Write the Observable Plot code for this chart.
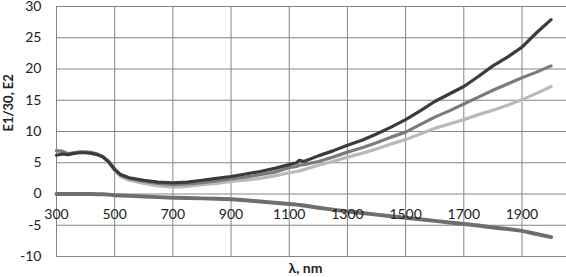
<!DOCTYPE html>
<html>
<head>
<meta charset="utf-8">
<script src="https://cdn.jsdelivr.net/npm/d3@7"></script>
<script src="https://cdn.jsdelivr.net/npm/@observablehq/plot@0.6"></script>
<style>
  html, body { margin: 0; padding: 0; background: #fff; }
  #chart svg { display: block; }
</style>
</head>
<body>
<div id="chart"></div>
<script>
const wavelength = [300, 320, 340, 360, 380, 400, 420, 440, 460, 480, 500, 520, 550, 600, 650, 700, 750, 800, 850, 900, 950, 1000, 1050, 1100, 1125, 1135, 1150, 1200, 1250, 1300, 1350, 1400, 1450, 1500, 1550, 1600, 1650, 1700, 1750, 1800, 1850, 1900, 1950, 2000];
const e1Dark = [6.2, 6.4, 6.3, 6.5, 6.6, 6.6, 6.5, 6.3, 5.9, 5.1, 3.9, 3.1, 2.6, 2.2, 1.9, 1.8, 1.9, 2.2, 2.5, 2.8, 3.2, 3.6, 4.1, 4.7, 5.0, 5.4, 5.2, 6.1, 6.9, 7.8, 8.6, 9.6, 10.7, 11.9, 13.3, 14.8, 16.0, 17.2, 18.8, 20.5, 21.9, 23.5, 25.8, 27.9];
const e1Medium = [6.9, 6.8, 6.4, 6.6, 6.7, 6.7, 6.6, 6.4, 6.0, 5.2, 4.0, 3.1, 2.5, 2.0, 1.7, 1.5, 1.6, 1.8, 2.1, 2.4, 2.7, 3.1, 3.5, 4.2, 4.4, 4.6, 4.7, 5.2, 5.9, 6.7, 7.4, 8.2, 9.1, 9.9, 11.1, 12.3, 13.3, 14.4, 15.5, 16.6, 17.6, 18.6, 19.5, 20.5];
const e1Light = [7.0, 6.9, 6.5, 6.6, 6.8, 6.8, 6.7, 6.4, 5.9, 5.0, 3.7, 2.8, 2.2, 1.7, 1.3, 1.1, 1.2, 1.5, 1.7, 2.0, 2.2, 2.5, 2.9, 3.4, 3.6, 3.7, 3.9, 4.6, 5.2, 5.9, 6.5, 7.2, 8.0, 8.7, 9.6, 10.5, 11.2, 11.9, 12.7, 13.4, 14.2, 15.1, 16.1, 17.2];
const e2 = [0, 0, 0, 0, 0, 0, 0, -0.05, -0.05, -0.1, -0.2, -0.25, -0.3, -0.4, -0.5, -0.6, -0.65, -0.7, -0.75, -0.85, -1.0, -1.2, -1.4, -1.6, -1.7, -1.75, -1.85, -2.2, -2.5, -2.8, -3.05, -3.3, -3.55, -3.8, -4.05, -4.3, -4.55, -4.8, -5.05, -5.35, -5.6, -5.9, -6.4, -6.9];
const xTicks = [300, 500, 700, 900, 1100, 1300, 1500, 1700, 1900];
const yTicks = [-10, -5, 0, 5, 10, 15, 20, 25, 30];

const rows = wavelength.map((w, i) => ({w, dark: e1Dark[i], medium: e1Medium[i], light: e1Light[i], e2: e2[i]}));

const font = "Lato, 'Open Sans', sans-serif";

const chart = Plot.plot({
  width: 566,
  height: 277,
  marginLeft: 56,
  marginRight: 0,
  marginTop: 6,
  marginBottom: 21,
  style: {fontFamily: font, fontSize: "14px", color: "#222", background: "#fff"},
  x: {domain: [300, 2053], axis: null},
  y: {domain: [-10, 30], axis: null},
  marks: [
    Plot.ruleX(xTicks, {stroke: "#858585", strokeWidth: 1}),
    Plot.ruleY(yTicks, {stroke: "#858585", strokeWidth: 1}),
    Plot.axisY({ticks: yTicks, tickSize: 0, tickPadding: 15, tickFormat: d => d, fill: "#222",
      label: null, fontSize: 14}),
    Plot.lineY(rows, {x: "w", y: "e2", stroke: "#6e6e6e", strokeWidth: 4}),
    Plot.lineY(rows, {x: "w", y: "light", stroke: "#b9b9b9", strokeWidth: 3.2}),
    Plot.lineY(rows, {x: "w", y: "medium", stroke: "#7b7b7b", strokeWidth: 3.2}),
    Plot.lineY(rows, {x: "w", y: "dark", stroke: "#3b3b3b", strokeWidth: 3.2}),
    Plot.text(xTicks, {x: d => d, y: 0, dy: 21, text: d => String(d), fill: "#222", fontSize: 14}),
    Plot.text(["λ, nm"], {frameAnchor: "bottom", lineAnchor: "middle", dx: -6, dy: 12, fontWeight: "bold", fontSize: 14, fill: "#222"}),
    Plot.text(["E1/30, E2"], {frameAnchor: "left", rotate: -90, dx: -48, fontWeight: "bold", fontSize: 13, fill: "#222"})
  ]
});
document.getElementById("chart").appendChild(chart);
</script>
</body>
</html>
